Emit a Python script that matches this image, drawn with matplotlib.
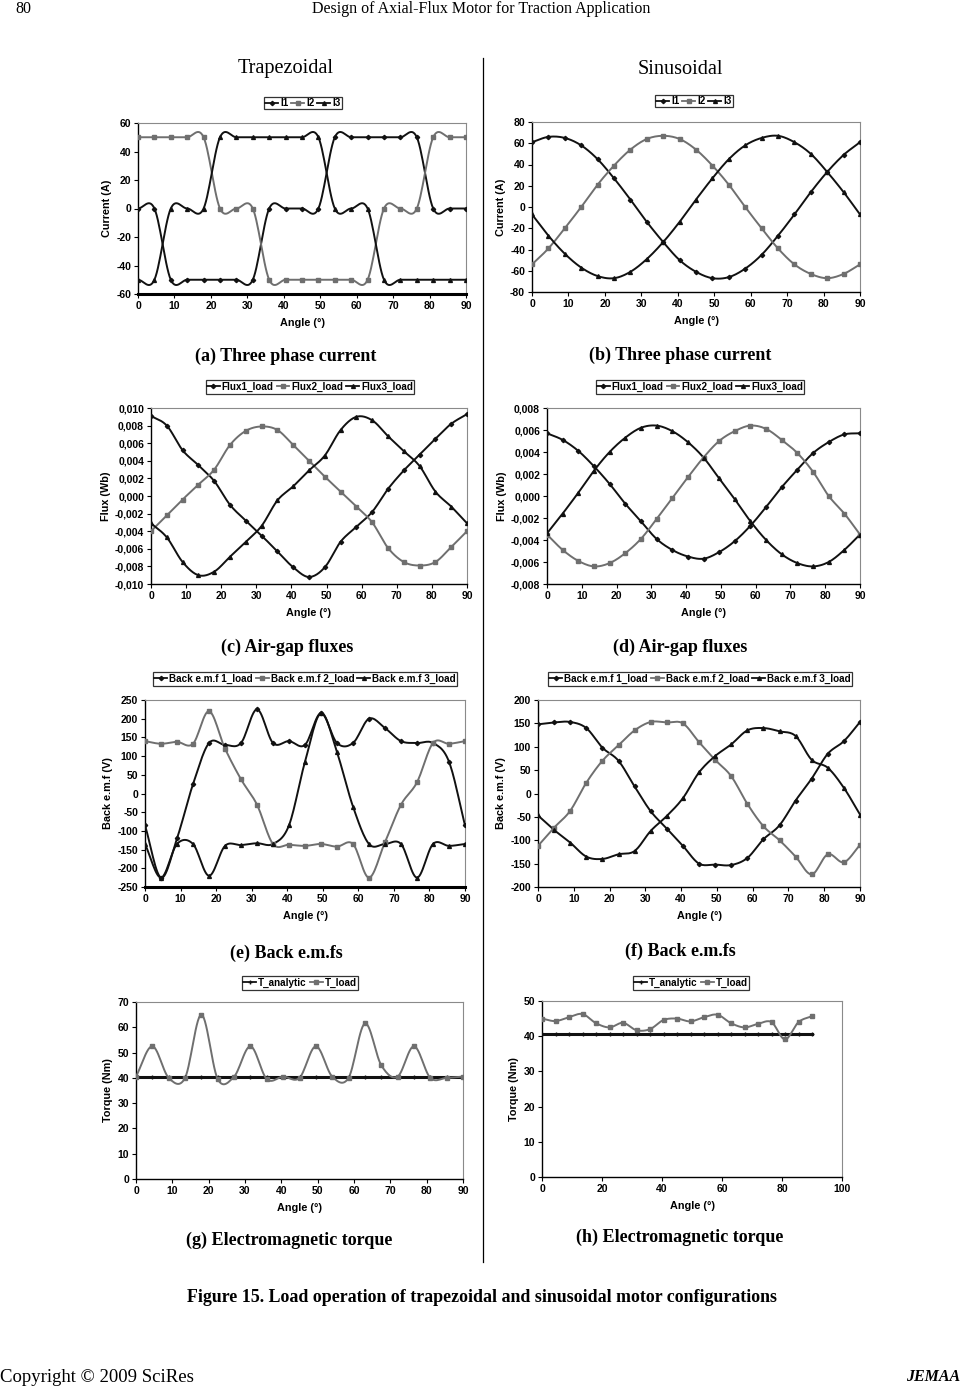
import numpy as np
import matplotlib
matplotlib.use("Agg")
import matplotlib.pyplot as plt
from matplotlib.lines import Line2D
from matplotlib.ticker import FuncFormatter, MultipleLocator

plt.rcParams['font.family'] = ['Liberation Sans', 'DejaVu Sans']
plt.rcParams['axes.unicode_minus'] = False

# rotor angle (deg), same for every panel
angle = [0, 4.5, 9, 13.5, 18, 22.5, 27, 31.5, 36, 40.5, 45,
         49.5, 54, 58.5, 63, 67.5, 72, 76.5, 81, 85.5, 90]

# (a) trapezoidal currents (A)
trap_i1 = [0, 0, -50, -50, -50, -50, -50, -50, 0, 0, 0,
           0, 50, 50, 50, 50, 50, 50, 0, 0, 0]
trap_i2 = [50, 50, 50, 50, 50, 0, 0, 0, -50, -50, -50,
           -50, -50, -50, -50, 0, 0, 0, 50, 50, 50]
trap_i3 = [-50, -50, 0, 0, 0, 50, 50, 50, 50, 50, 50,
           50, 0, 0, 0, -50, -50, -50, -50, -50, -50]

# (b) sinusoidal currents (A)
sin_i1 = [61, 66, 65, 58, 45, 27, 7, -14, -33, -50, -61,
          -67, -66, -58, -45, -27, -7, 14, 33, 49, 61]
sin_i2 = [-54, -39, -20, 0, 21, 39, 54, 64, 67, 64, 54,
          39, 21, 0, -20, -39, -54, -63, -67, -63, -54]
sin_i3 = [-7, -27, -44, -57, -65, -67, -61, -49, -33, -14, 7,
          27, 45, 58, 65, 67, 61, 50, 33, 14, -7]

# (c) trapezoidal air-gap fluxes (Wb)
trap_f1 = [0.0091, 0.0080, 0.0052, 0.0035, 0.0017, -0.0010, -0.0028, -0.0045, -0.0063, -0.0081, -0.0092,
           -0.0081, -0.0052, -0.0035, -0.0018, 0.0008, 0.0029, 0.0047, 0.0065, 0.0082, 0.0093]
trap_f2 = [-0.0040, -0.0022, -0.0004, 0.0013, 0.0030, 0.0058, 0.0074, 0.0079, 0.0075, 0.0058, 0.0040,
           0.0022, 0.0005, -0.0012, -0.0030, -0.0059, -0.0075, -0.0079, -0.0075, -0.0058, -0.0040]
trap_f3 = [-0.0031, -0.0047, -0.0075, -0.0090, -0.0086, -0.0069, -0.0052, -0.0034, -0.0005, 0.0011, 0.0029,
           0.0046, 0.0075, 0.0090, 0.0086, 0.0068, 0.0051, 0.0034, 0.0005, -0.0012, -0.0031]

# (d) sinusoidal air-gap fluxes (Wb)
sin_f1 = [0.0057, 0.0051, 0.0041, 0.0027, 0.0011, -0.0007, -0.0023, -0.0039, -0.0049, -0.0055, -0.0057,
          -0.0051, -0.0041, -0.0027, -0.0010, 0.0008, 0.0024, 0.0039, 0.0049, 0.0056, 0.0057]
sin_f2 = [-0.0035, -0.0049, -0.0059, -0.0064, -0.0061, -0.0052, -0.0039, -0.0021, -0.0002, 0.0017, 0.0035,
          0.0050, 0.0059, 0.0064, 0.0061, 0.0051, 0.0039, 0.0022, 0.0000, -0.0016, -0.0035]
sin_f3 = [-0.0034, -0.0016, 0.0003, 0.0023, 0.0040, 0.0053, 0.0062, 0.0064, 0.0059, 0.0049, 0.0035,
          0.0016, -0.0003, -0.0023, -0.0040, -0.0053, -0.0061, -0.0064, -0.0060, -0.0049, -0.0035]

# (e) trapezoidal back e.m.f (V)
trap_e1 = [-85, -225, -120, 25, 135, 130, 135, 225, 135, 140, 130,
           215, 135, 135, 200, 175, 140, 135, 135, 85, -85]
trap_e2 = [140, 133, 138, 133, 220, 120, 38, -30, -135, -137, -140,
           -135, -142, -135, -225, -130, -30, 30, 135, 133, 140]
trap_e3 = [-135, -225, -135, -135, -220, -140, -138, -133, -135, -85, 85,
           215, 110, -35, -135, -135, -135, -225, -135, -140, -135]

# (f) sinusoidal back e.m.f (V)
sin_e1 = [148, 152, 153, 140, 98, 70, 15, -38, -75, -112, -150,
          -152, -153, -138, -98, -68, -15, 32, 85, 112, 153]
sin_e2 = [-112, -73, -37, 23, 70, 103, 135, 153, 152, 150, 110,
          72, 37, -22, -70, -100, -135, -173, -130, -147, -110]
sin_e3 = [-47, -78, -105, -135, -140, -130, -123, -80, -48, -10, 45,
          80, 105, 135, 140, 133, 123, 72, 55, 12, -45]

# (g) / (h) torque (Nm)
trap_t_analytic = [40.5] * 21
trap_t_load = [40.5, 52.5, 40, 40, 65, 39.5, 40.5, 52.5, 39.5, 40.5, 40,
               52.5, 40.5, 40, 61.5, 45, 40.5, 52.5, 40, 40, 40.5]
sin_t_analytic = [40.5] * 21
sin_t_load = [45, 44.3, 45.4, 46.3, 43.7, 42.5, 43.8, 41.7, 42, 44.6, 45,
              44.2, 45.4, 46.1, 43.7, 42.5, 43.5, 44, 39.1, 44, 45.7]

W, H = 963, 1386
BLACK = '#111111'
GRAY = '#6f6f6f'


def smooth(x, y, n=14):
    # excel-like smoothed line (catmull-rom) through the data points
    x = np.asarray(x, float)
    y = np.asarray(y, float)
    px = np.concatenate([[2 * x[0] - x[1]], x, [2 * x[-1] - x[-2]]])
    py = np.concatenate([[2 * y[0] - y[1]], y, [2 * y[-1] - y[-2]]])
    t = np.linspace(0, 1, n, endpoint=False)[:, None]
    xs, ys = [], []
    for i in range(1, len(px) - 2):
        for p, out in ((px, xs), (py, ys)):
            p0, p1, p2, p3 = p[i - 1], p[i], p[i + 1], p[i + 2]
            seg = 0.5 * (2 * p1 + (-p0 + p2) * t + (2 * p0 - 5 * p1 + 4 * p2 - p3) * t ** 2
                         + (-p0 + 3 * p1 - 3 * p2 + p3) * t ** 3)
            out.append(seg.ravel())
    xs.append([x[-1]])
    ys.append([y[-1]])
    return np.concatenate(xs), np.concatenate(ys)


STYLES = [dict(color=BLACK, marker='D', ms=2.2),
          dict(color=GRAY, marker='s', ms=3.2),
          dict(color=BLACK, marker='^', ms=2.8)]


def panel(box, series, labels, ylim, ystep, ylabel, legbox, xlim=(0, 90), xstep=10,
          fmt=None, thick_bottom=False, styles=STYLES):
    l, r, t, b = box
    ax = fig.add_axes([l / W, 1 - b / H, (r - l) / W, (b - t) / H])
    for ys, st in zip(series, styles):
        sx, sy = smooth(angle, ys)
        ax.plot(sx, sy, color=st['color'], lw=1.4, zorder=3)
        ax.plot(angle, ys, ls='none', marker=st['marker'], ms=st['ms'],
                color=st['color'], mec=st['color'], zorder=4)
    ax.set_xlim(*xlim)
    ax.set_ylim(*ylim)
    ax.xaxis.set_major_locator(MultipleLocator(xstep))
    ax.yaxis.set_major_locator(MultipleLocator(ystep))
    if fmt:
        ax.yaxis.set_major_formatter(FuncFormatter(fmt))
    for s in ('top', 'right'):
        ax.spines[s].set_color('#8a8a8a')
        ax.spines[s].set_linewidth(0.8)
    for s in ('left', 'bottom'):
        ax.spines[s].set_color('black')
        ax.spines[s].set_linewidth(1.0)
    if thick_bottom:
        ax.spines['bottom'].set_linewidth(2.2)
    ax.tick_params(direction='out', length=3, width=0.8, labelsize=7.5, pad=2)
    for lab in ax.get_xticklabels() + ax.get_yticklabels():
        lab.set_fontweight('bold')
    ax.set_xlabel('Angle (°)', fontsize=7.8, fontweight='bold', labelpad=5)
    ax.set_ylabel(ylabel, fontsize=7.8, fontweight='bold', labelpad=3)
    handles = [Line2D([], [], color=st['color'], lw=1.3, marker=st['marker'], ms=st['ms'])
               for st in styles[:len(series)]]
    cx, cy = legbox
    leg = fig.legend(handles, labels, loc='center', bbox_to_anchor=(cx / W, 1 - cy / H),
                     bbox_transform=fig.transFigure, ncol=len(labels), frameon=True,
                     fancybox=False, handlelength=1.3, handletextpad=0.2, columnspacing=0.3,
                     borderpad=0.15, borderaxespad=0, prop={'size': 7.1, 'weight': 'bold'})
    leg.get_frame().set_edgecolor('black')
    leg.get_frame().set_linewidth(0.9)
    return ax


def comma3(v, pos):
    return f'{v:.3f}'.replace('.', ',')


fig = plt.figure(figsize=(W / 100, H / 100), dpi=100)

serif = ['Liberation Serif', 'DejaVu Serif']
fig.text(15 / W, 1 - 9 / H, '80', family=serif, fontsize=11.5, va='center', ha='left')
fig.text(481 / W, 1 - 9 / H, 'Design of Axial-Flux Motor for Traction Application',
         family=serif, fontsize=11.5, va='center', ha='center')
fig.text(286 / W, 1 - 69 / H, 'Trapezoidal', family=serif, fontsize=14.6, va='center', ha='center')
fig.text(680 / W, 1 - 69 / H, 'Sinusoidal', family=serif, fontsize=14.6, va='center', ha='center')
fig.add_artist(Line2D([483 / W, 483 / W], [1 - 58 / H, 1 - 1262 / H], color='black', lw=0.9))

panel((138, 466, 123, 294), [trap_i1, trap_i2, trap_i3], ['I1', 'I2', 'I3'],
      (-60, 60), 20, 'Current (A)', (303, 103), thick_bottom=True)
panel((532, 860, 122, 292), [sin_i1, sin_i2, sin_i3], ['I1', 'I2', 'I3'],
      (-80, 80), 20, 'Current (A)', (694, 101))
panel((151, 467, 408, 584), [trap_f1, trap_f2, trap_f3], ['Flux1_load', 'Flux2_load', 'Flux3_load'],
      (-0.010, 0.010), 0.002, 'Flux (Wb)', (310, 387), fmt=comma3)
panel((547, 860, 408, 584), [sin_f1, sin_f2, sin_f3], ['Flux1_load', 'Flux2_load', 'Flux3_load'],
      (-0.008, 0.008), 0.002, 'Flux (Wb)', (700, 387), fmt=comma3)
panel((145, 465, 700, 887), [trap_e1, trap_e2, trap_e3],
      ['Back e.m.f 1_load', 'Back e.m.f 2_load', 'Back e.m.f 3_load'],
      (-250, 250), 50, 'Back e.m.f (V)', (305, 679), thick_bottom=True)
panel((538, 860, 700, 887), [sin_e1, sin_e2, sin_e3],
      ['Back e.m.f 1_load', 'Back e.m.f 2_load', 'Back e.m.f 3_load'],
      (-200, 200), 50, 'Back e.m.f (V)', (700, 679))

tstyles = [dict(color=BLACK, marker='+', ms=3.5), dict(color=GRAY, marker='s', ms=3.2)]
ag = panel((136, 463, 1002, 1179), [trap_t_analytic, trap_t_load], ['T_analytic', 'T_load'],
           (0, 70), 10, 'Torque (Nm)', (300, 983), styles=tstyles)
ah = panel((542, 842, 1001, 1177), [sin_t_analytic, sin_t_load], ['T_analytic', 'T_load'],
           (0, 50), 10, 'Torque (Nm)', (691, 983), xlim=(0, 100), xstep=20, styles=tstyles)
for ax in (ag, ah):
    ax.lines[0].set_linewidth(2.2)

caps = [((286, 356), '(a) Three phase current'), ((680, 355), '(b) Three phase current'),
        ((287, 647), '(c) Air-gap fluxes'), ((680, 647), '(d) Air-gap fluxes'),
        ((286, 953), '(e) Back e.m.fs'), ((680, 951), '(f) Back e.m.fs'),
        ((289, 1240), '(g) Electromagnetic torque'), ((680, 1237), '(h) Electromagnetic torque')]
for (cx, cy), txt in caps:
    fig.text(cx / W, 1 - cy / H, txt, family=serif, fontsize=13, fontweight='bold',
             va='center', ha='center')

fig.text(482 / W, 1 - 1297 / H,
         'Figure 15. Load operation of trapezoidal and sinusoidal motor configurations',
         family=serif, fontsize=12.9, fontweight='bold', va='center', ha='center')
fig.text(0 / W, 1 - 1377 / H, 'Copyright © 2009 SciRes', family=serif, fontsize=13.5,
         va='center', ha='left')
fig.text(960 / W, 1 - 1377 / H, 'JEMAA', family=serif, fontsize=11.5, fontweight='bold',
         style='italic', va='center', ha='right')

fig.savefig('out.png', dpi=100)
